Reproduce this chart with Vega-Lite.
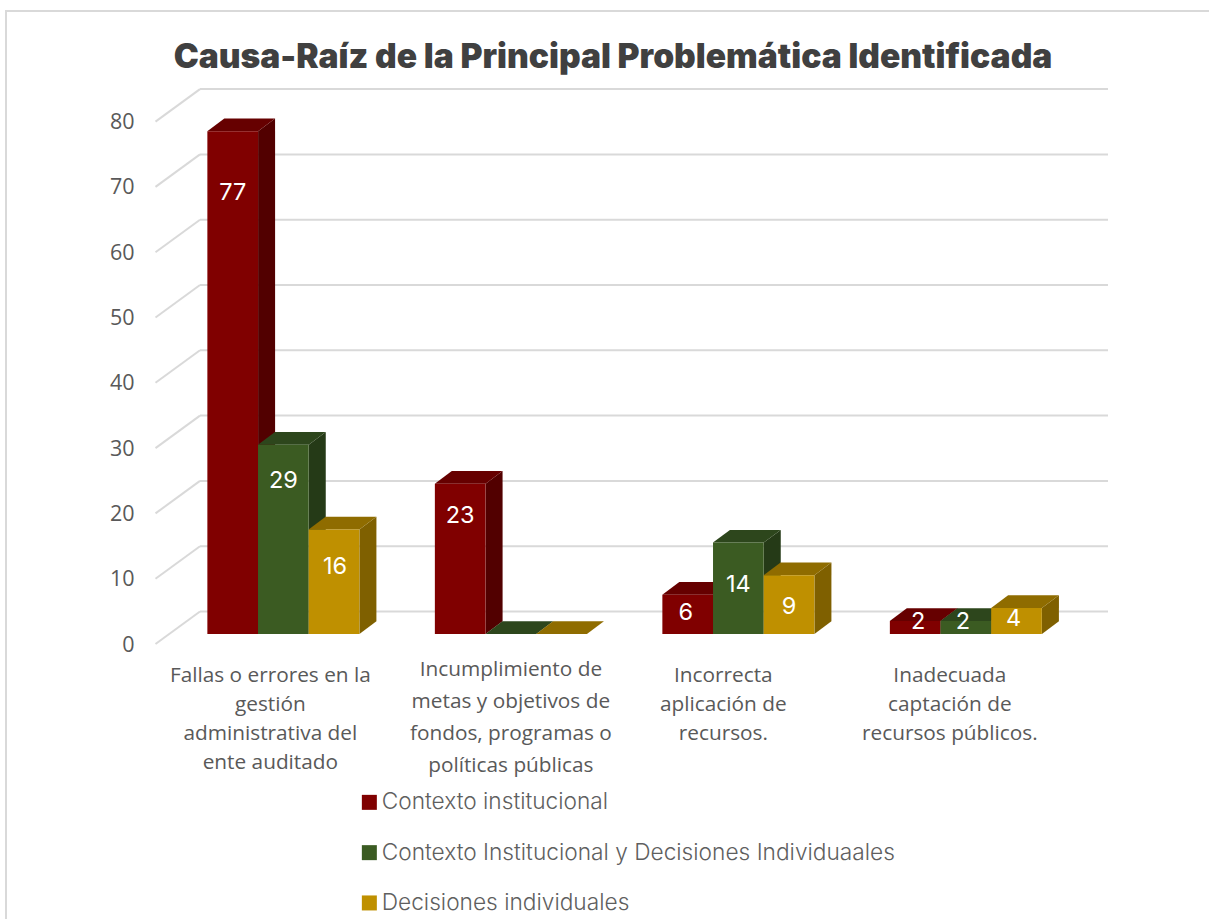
{"$schema":"https://vega.github.io/schema/vega-lite/v6.json","autosize":"none","width":1300,"height":1000,"padding":{"left":6,"top":11,"right":-97,"bottom":-92},"background":"white","config":{"view":{"stroke":"#d9d9d9","strokeWidth":2}},"title":{"text":"Causa-Raíz de la Principal Problemática Identificada","anchor":"middle","dx":-43,"offset":-64,"font":"Inter","fontSize":33.6,"fontWeight":900,"color":"#404040"},"data":{"values":[
{"cat":"Fallas o errores en la|gestión|administrativa del|ente auditado","series":"Contexto institucional","value":77},
{"cat":"Fallas o errores en la|gestión|administrativa del|ente auditado","series":"Contexto Institucional y Decisiones Individuaales","value":29},
{"cat":"Fallas o errores en la|gestión|administrativa del|ente auditado","series":"Decisiones individuales","value":16},
{"cat":"Incumplimiento de|metas y objetivos de|fondos, programas o|políticas públicas","series":"Contexto institucional","value":23},
{"cat":"Incumplimiento de|metas y objetivos de|fondos, programas o|políticas públicas","series":"Contexto Institucional y Decisiones Individuaales","value":0},
{"cat":"Incumplimiento de|metas y objetivos de|fondos, programas o|políticas públicas","series":"Decisiones individuales","value":0},
{"cat":"Incorrecta|aplicación de|recursos.","series":"Contexto institucional","value":6},
{"cat":"Incorrecta|aplicación de|recursos.","series":"Contexto Institucional y Decisiones Individuaales","value":14},
{"cat":"Incorrecta|aplicación de|recursos.","series":"Decisiones individuales","value":9},
{"cat":"Inadecuada|captación de|recursos públicos.","series":"Contexto institucional","value":2},
{"cat":"Inadecuada|captación de|recursos públicos.","series":"Contexto Institucional y Decisiones Individuaales","value":2},
{"cat":"Inadecuada|captación de|recursos públicos.","series":"Decisiones individuales","value":4}
]},
"encoding":{
"x":{"field":"cat","type":"nominal","sort":null,"title":null,"scale":{"range":[163.6,1073.6],"paddingInner":0.332,"paddingOuter":0.166},"axis":null},
"xOffset":{"field":"series","type":"nominal","sort":["Contexto institucional","Contexto Institucional y Decisiones Individuaales","Decisiones individuales"]},
"y":{"field":"value","type":"quantitative","title":null,"scale":{"domain":[0,80],"range":[623,100.6],"nice":false,"zero":true},"axis":{"orient":"left","offset":-128,"values":[0,10,20,30,40,50,60,70,80],"grid":false,"domain":false,"ticks":false,"labelPadding":0,"labelOffset":11,"labelFont":"Open Sans","labelFontSize":21.5,"labelColor":"#595959"}}
},
"resolve":{"axis":{"x":"independent"}},
"layer":[
{"data":{"values":[{"tick":0},{"tick":10},{"tick":20},{"tick":30},{"tick":40},{"tick":50},{"tick":60},{"tick":70},{"tick":80}]},"mark":{"type":"rule","color":"#d9d9d9","strokeWidth":2,"yOffset":-22.5},"encoding":{"x":{"value":194},"x2":{"value":1102},"xOffset":null,"y":{"field":"tick","type":"quantitative"}}},
{"data":{"values":[{"tick":0},{"tick":10},{"tick":20},{"tick":30},{"tick":40},{"tick":50},{"tick":60},{"tick":70},{"tick":80}]},"mark":{"type":"rule","color":"#d9d9d9","strokeWidth":2,"yOffset":10,"y2Offset":-22.5},"encoding":{"x":{"value":149.5},"x2":{"value":194},"xOffset":null,"y":{"field":"tick","type":"quantitative"},"y2":{"field":"tick"}}},
{"mark":{"type":"point","filled":true,"opacity":1,"size":4,"strokeWidth":0,"fill":{"expr":"datum.series=='Contexto institucional'?'#520000':datum.series=='Decisiones individuales'?'#7f6000':'#253a17'"},"shape":{"expr":"'M25.4,0L42.4,-12.7L42.4,'+(datum.value*6.53-12.7)+'L25.4,'+(datum.value*6.53)+'Z'"}}},
{"mark":{"type":"point","filled":true,"opacity":1,"size":4,"strokeWidth":0,"fill":{"expr":"datum.series=='Contexto institucional'?'#660000':datum.series=='Decisiones individuales'?'#8f6c00':'#2d461c'"},"shape":"M-25.4,0L25.4,0L42.4,-12.7L-8.4,-12.7Z"}},
{"mark":{"type":"bar"},"encoding":{"x":{"field":"cat","type":"nominal","sort":null,"title":null,"axis":{"orient":"bottom","offset":-346,"domain":false,"ticks":false,"labelAngle":0,"labelAlign":"center","labelBaseline":"top","labelPadding":0,"labelLimit":0,"labelFont":"Open Sans","labelFontSize":20.8,"labelColor":"#595959","labelLineHeight":29,"labelOffset":{"expr":"indexof(datum.label,'Fallas')==0?-13:indexof(datum.label,'Incorrecta')==0?-15:-16"},"labelExpr":"indexof(datum.label,'Incumplimiento')==0?'':split(datum.label,'|')"}},"color":{"field":"series","type":"nominal","scale":{"domain":["Contexto institucional","Contexto Institucional y Decisiones Individuaales","Decisiones individuales"],"range":["#800000","#3b5b22","#bf9000"]},"legend":{"orient":"none","legendX":352,"legendY":780,"title":null,"padding":0,"symbolType":"square","symbolSize":225,"symbolStrokeWidth":0,"labelFont":"Inter","labelFontWeight":300,"labelFontSize":22.7,"labelColor":"#5f5f5f","labelOffset":1,"rowPadding":26.3,"labelLimit":0}}}},
{"transform":[{"filter":"datum.value>0"}],"mark":{"type":"text","color":"white","font":"Inter","fontSize":23.5,"baseline":"middle","dx":{"expr":"datum.value==6?-2:datum.value==16?1:datum.value==4?-3:datum.value==2?(datum.series=='Contexto institucional'?3:-3):0"},"dy":{"expr":"datum.value==77?62:datum.value==29?36:datum.value==16?37.5:datum.value==23?32:datum.value==6?18:datum.value==14?42:datum.value==9?32:datum.value==4?11:1.5"}},"encoding":{"x":{"field":"cat","type":"nominal","sort":null,"title":null,"axis":{"orient":"bottom","offset":-352,"domain":false,"ticks":false,"labelAngle":0,"labelAlign":"center","labelBaseline":"top","labelPadding":0,"labelLimit":0,"labelFont":"Open Sans","labelFontSize":20.8,"labelColor":"#595959","labelLineHeight":32,"labelExpr":"indexof(datum.label,'Incumplimiento')==0?split(datum.label,'|'):''"}},"text":{"field":"value","type":"quantitative"}}}
]}
